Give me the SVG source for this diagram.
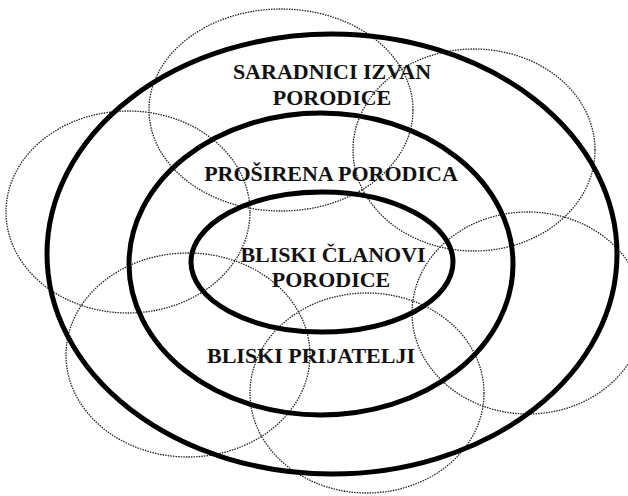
<svg xmlns="http://www.w3.org/2000/svg" width="628" height="496" viewBox="0 0 628 496">
  <style>
    .dot { fill: none; stroke: #222; stroke-width: 1.3; stroke-dasharray: 1.5 1.1; }
    .ring { fill: none; stroke: #000; stroke-width: 5; }
    .lbl { font-family: "Liberation Serif", "Times New Roman", serif; font-weight: bold; font-size: 22px; fill: #111; text-anchor: middle; }
  </style>
  <rect width="628" height="496" fill="#fff"/>
  <g id="dotted-circles">
    <ellipse class="dot" cx="281" cy="110" rx="132" ry="101"/>
    <ellipse class="dot" cx="474" cy="150" rx="121" ry="101"/>
    <ellipse class="dot" cx="128" cy="212" rx="122" ry="101"/>
    <ellipse class="dot" cx="528" cy="313" rx="116" ry="101"/>
    <ellipse class="dot" cx="188" cy="355" rx="122" ry="102"/>
    <ellipse class="dot" cx="367" cy="393" rx="117" ry="100"/>
  </g>
  <g id="saradnici">
    <ellipse class="ring" cx="332" cy="254" rx="285" ry="220"/>
    <text class="lbl" x="332" y="79">SARADNICI IZVAN</text>
    <text class="lbl" x="332" y="105">PORODICE</text>
  </g>
  <g id="prosirena">
    <ellipse class="ring" cx="321" cy="264" rx="192" ry="151"/>
    <text class="lbl" x="331" y="181">PROŠIRENA PORODICA</text>
  </g>
  <g id="bliski-clanovi">
    <ellipse class="ring" cx="322" cy="262" rx="131" ry="70"/>
    <text class="lbl" x="333" y="262">BLISKI ČLANOVI</text>
    <text class="lbl" x="331" y="287">PORODICE</text>
  </g>
  <g id="bliski-prijatelji">
    <text class="lbl" x="311" y="363">BLISKI PRIJATELJI</text>
  </g>
</svg>
